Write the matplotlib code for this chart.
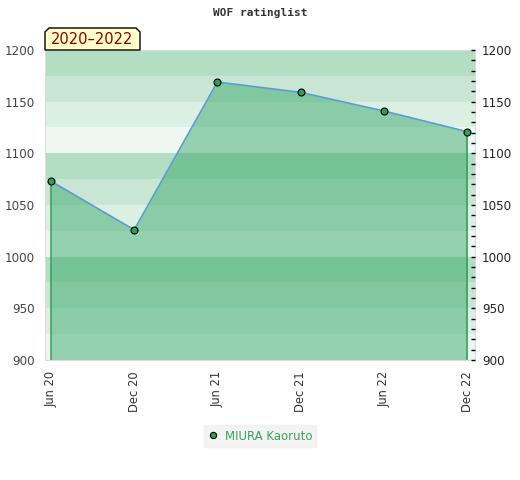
import matplotlib
matplotlib.use("Agg")
import matplotlib.pyplot as plt
from matplotlib.patches import Polygon

# data
periods = ["Jun 20", "Dec 20", "Jun 21", "Dec 21", "Jun 22", "Dec 22"]
ratings = [1073, 1026, 1169, 1159, 1141, 1121]
player = "MIURA Kaoruto"
span_label = "2020\u20132022"

band_colors = ["#eef7f1", "#dcefe3", "#c8e6d3", "#b3dec3"]

fig = plt.figure(figsize=(5.2, 4.8), dpi=100)
ax = fig.add_axes([45 / 520, 120 / 480, 430 / 520, 310 / 480])

# striped background, 25 points per stripe
for i, lo in enumerate(range(900, 1200, 25)):
    ax.axhspan(lo, lo + 25, color=band_colors[i % 4], lw=0, zorder=0)

x = list(range(len(ratings)))
ax.fill_between(x, 900, ratings, color="#3caa6e", alpha=0.5, lw=0, zorder=1)
ax.plot(x, ratings, color="#5b9bd5", lw=1.2, zorder=2)
ax.vlines([x[0], x[-1]], 900, [ratings[0], ratings[-1]], color="#2e9e52", lw=1.1, zorder=2)
ax.plot(x, ratings, "o", ms=5, mfc="#2e9e58", mec="black", mew=0.8, zorder=3,
        label=player)

ax.set_xlim(-0.072, 5.096)
ax.set_ylim(900, 1200)
ax.set_xticks(x)
ax.set_xticklabels(periods, rotation=90, fontsize=8.3, color="#333333")
ax.tick_params(axis="x", length=0, pad=8)
ax.set_yticks(range(900, 1201, 50))
ax.tick_params(axis="y", length=0, labelsize=8.6, labelcolor="#444444", pad=7)
for s in ax.spines.values():
    s.set_color("#dddddd")

ax2 = ax.twinx()
ax2.set_ylim(900, 1200)
ax2.set_yticks(range(900, 1201, 50))
ax2.set_yticks(range(900, 1201, 10), minor=True)
ax2.tick_params(axis="y", which="both", direction="in", length=3, width=1,
                labelsize=8.6, labelcolor="#222222", pad=5)
for s in ax2.spines.values():
    s.set_visible(False)

fig.text(0.5, 1 - 13 / 480, "WOF ratinglist", ha="center", va="center",
         family="DejaVu Sans Mono", fontweight="bold", fontsize=8, color="#333333")

# period label box with clipped top corners
px = [45, 45, 49, 136, 140, 140]
py = [50, 32, 28, 28, 32, 50]
poly = Polygon([(a / 520, 1 - b / 480) for a, b in zip(px, py)], closed=True,
               transform=fig.transFigure, fc="#ffffcc", ec="black", lw=1)
fig.patches.append(poly)
fig.text(92 / 520, 1 - 40 / 480, span_label, ha="center", va="center",
         fontsize=10.5, color="#8b0000")

leg = fig.legend(loc="center", bbox_to_anchor=(260 / 520, 1 - 436 / 480),
                 frameon=True, fontsize=8.5, handlelength=0.8, handletextpad=0.6,
                 borderpad=0.35, fancybox=False, markerscale=0.9)
leg.get_frame().set_facecolor("#f0f0f0")
leg.get_frame().set_edgecolor("#f0f0f0")
for t in leg.get_texts():
    t.set_color("#3aa35c")

fig.savefig("out.png", dpi=100)
